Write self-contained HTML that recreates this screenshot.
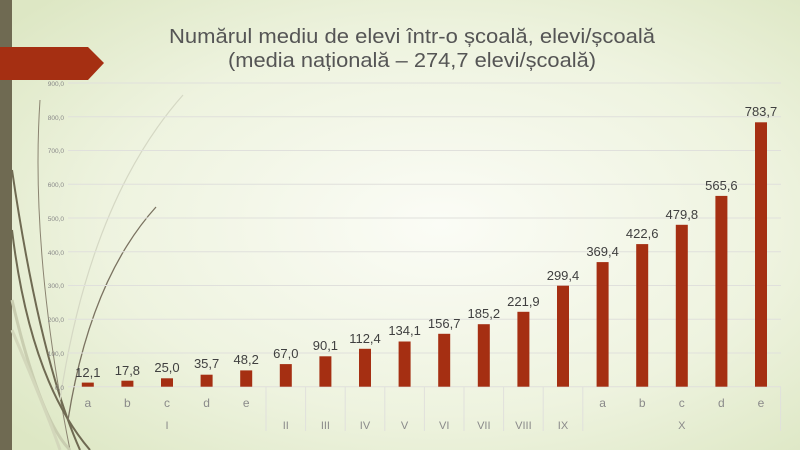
<!DOCTYPE html>
<html><head><meta charset="utf-8"><style>
html,body{margin:0;padding:0;width:800px;height:450px;overflow:hidden}
svg{display:block}
text{font-family:"Liberation Sans",sans-serif}
</style></head><body>
<svg width="800" height="450" viewBox="0 0 800 450" xmlns="http://www.w3.org/2000/svg">
<defs>
<radialGradient id="bg" cx="0.55" cy="0.5" r="0.7">
<stop offset="0" stop-color="#fbfcf6"/>
<stop offset="0.6" stop-color="#eef3df"/>
<stop offset="1" stop-color="#dde7c4"/>
</radialGradient>
</defs>
<rect width="800" height="450" fill="url(#bg)"/>
<rect x="0" y="0" width="12" height="450" fill="#6f6a52"/>
<!-- decorative curves -->
<g fill="none">
<path d="M40 100 Q30 250 70 450" stroke="#8a8370" stroke-width="1"/>
<path d="M12 230 Q30 380 90 450" stroke="#6f6a52" stroke-width="2"/>
<path d="M12 170 Q40 360 80 450" stroke="#6f6a52" stroke-width="2"/>
<path d="M12 300 Q40 420 70 450" stroke="#c9cdb0" stroke-width="3"/>
<path d="M12 330 Q50 420 60 450" stroke="#d3d7bb" stroke-width="3"/>
<path d="M183 95 Q90 200 60 400" stroke="#d5d8c4" stroke-width="1.2"/>
<path d="M156 207 Q90 280 68 420" stroke="#7a7260" stroke-width="1.3"/>
</g>
<!-- arrow -->
<polygon points="0,47 88,47 104,63 88,80 0,80" fill="#a52f12"/>
<!-- title -->
<text x="412" y="43" font-size="20" fill="#555" text-anchor="middle" textLength="486" lengthAdjust="spacingAndGlyphs">Numărul mediu de elevi într-o școală, elevi/școală</text>
<text x="412" y="67" font-size="20" fill="#555" text-anchor="middle" textLength="368" lengthAdjust="spacingAndGlyphs">(media națională – 274,7 elevi/școală)</text>
<!-- gridlines -->
<g stroke="#e0e0dc" stroke-width="1">
<line x1="68" x2="781" y1="83" y2="83"/>
<line x1="68" x2="781" y1="116.8" y2="116.8"/>
<line x1="68" x2="781" y1="150.5" y2="150.5"/>
<line x1="68" x2="781" y1="184.3" y2="184.3"/>
<line x1="68" x2="781" y1="218" y2="218"/>
<line x1="68" x2="781" y1="251.7" y2="251.7"/>
<line x1="68" x2="781" y1="285.5" y2="285.5"/>
<line x1="68" x2="781" y1="319.2" y2="319.2"/>
<line x1="68" x2="781" y1="353" y2="353"/>
<line x1="68" x2="781" y1="386.7" y2="386.7"/>
</g>
<g font-size="6.5" fill="#888" text-anchor="end">
<text x="64" y="86">900,0</text><text x="64" y="120">800,0</text><text x="64" y="153">700,0</text>
<text x="64" y="187">600,0</text><text x="64" y="221">500,0</text><text x="64" y="255">400,0</text>
<text x="64" y="288">300,0</text><text x="64" y="322">200,0</text><text x="64" y="356">100,0</text>
<text x="64" y="390">0,0</text>
</g>
<!-- separators -->
<g stroke="#e0e0dc" stroke-width="1">
<line x1="266" x2="266" y1="387" y2="431"/>
<line x1="305.6" x2="305.6" y1="387" y2="431"/>
<line x1="345.2" x2="345.2" y1="387" y2="431"/>
<line x1="384.8" x2="384.8" y1="387" y2="431"/>
<line x1="424.4" x2="424.4" y1="387" y2="431"/>
<line x1="464" x2="464" y1="387" y2="431"/>
<line x1="503.6" x2="503.6" y1="387" y2="431"/>
<line x1="543.2" x2="543.2" y1="387" y2="431"/>
<line x1="582.8" x2="582.8" y1="387" y2="431"/>
<line x1="780.6" x2="780.6" y1="387" y2="431"/>
</g>
<!-- bars -->
<g fill="#a52f12">
<rect x="81.8" y="382.6" width="12" height="4.1"/>
<rect x="121.4" y="380.7" width="12" height="6"/>
<rect x="161" y="378.3" width="12" height="8.4"/>
<rect x="200.6" y="374.7" width="12" height="12"/>
<rect x="240.2" y="370.4" width="12" height="16.3"/>
<rect x="279.8" y="364.1" width="12" height="22.6"/>
<rect x="319.4" y="356.3" width="12" height="30.4"/>
<rect x="359" y="348.8" width="12" height="37.9"/>
<rect x="398.6" y="341.5" width="12" height="45.2"/>
<rect x="438.2" y="333.8" width="12" height="52.9"/>
<rect x="477.8" y="324.2" width="12" height="62.5"/>
<rect x="517.4" y="311.8" width="12" height="74.9"/>
<rect x="557" y="285.7" width="12" height="101"/>
<rect x="596.6" y="262.1" width="12" height="124.6"/>
<rect x="636.2" y="244.1" width="12" height="142.6"/>
<rect x="675.8" y="224.8" width="12" height="161.9"/>
<rect x="715.4" y="195.9" width="12" height="190.8"/>
<rect x="755" y="122.3" width="12" height="264.4"/>
</g>
<!-- value labels -->
<g font-size="13" fill="#404040" text-anchor="middle">
<text x="87.8" y="377">12,1</text>
<text x="127.4" y="375">17,8</text>
<text x="167" y="372">25,0</text>
<text x="206.6" y="368">35,7</text>
<text x="246.2" y="364">48,2</text>
<text x="285.8" y="358">67,0</text>
<text x="325.4" y="350">90,1</text>
<text x="365" y="343">112,4</text>
<text x="404.6" y="335">134,1</text>
<text x="444.2" y="328">156,7</text>
<text x="483.8" y="318">185,2</text>
<text x="523.4" y="306">221,9</text>
<text x="563" y="280">299,4</text>
<text x="602.6" y="256">369,4</text>
<text x="642.2" y="238">422,6</text>
<text x="681.8" y="219">479,8</text>
<text x="721.4" y="190">565,6</text>
<text x="761" y="116">783,7</text>
</g>
<!-- category labels -->
<g font-size="12" fill="#8a8a8a" text-anchor="middle">
<text x="87.8" y="407">a</text><text x="127.4" y="407">b</text><text x="167" y="407">c</text>
<text x="206.6" y="407">d</text><text x="246.2" y="407">e</text>
<text x="602.6" y="407">a</text><text x="642.2" y="407">b</text><text x="681.8" y="407">c</text>
<text x="721.4" y="407">d</text><text x="761" y="407">e</text>
</g>
<g font-size="11" fill="#8a8a8a" text-anchor="middle">
<text x="167" y="429">I</text>
<text x="285.8" y="429">II</text><text x="325.4" y="429">III</text><text x="365" y="429">IV</text>
<text x="404.6" y="429">V</text><text x="444.2" y="429">VI</text><text x="483.8" y="429">VII</text>
<text x="523.4" y="429">VIII</text><text x="563" y="429">IX</text><text x="681.8" y="429">X</text>
</g>
</svg>
</body></html>
